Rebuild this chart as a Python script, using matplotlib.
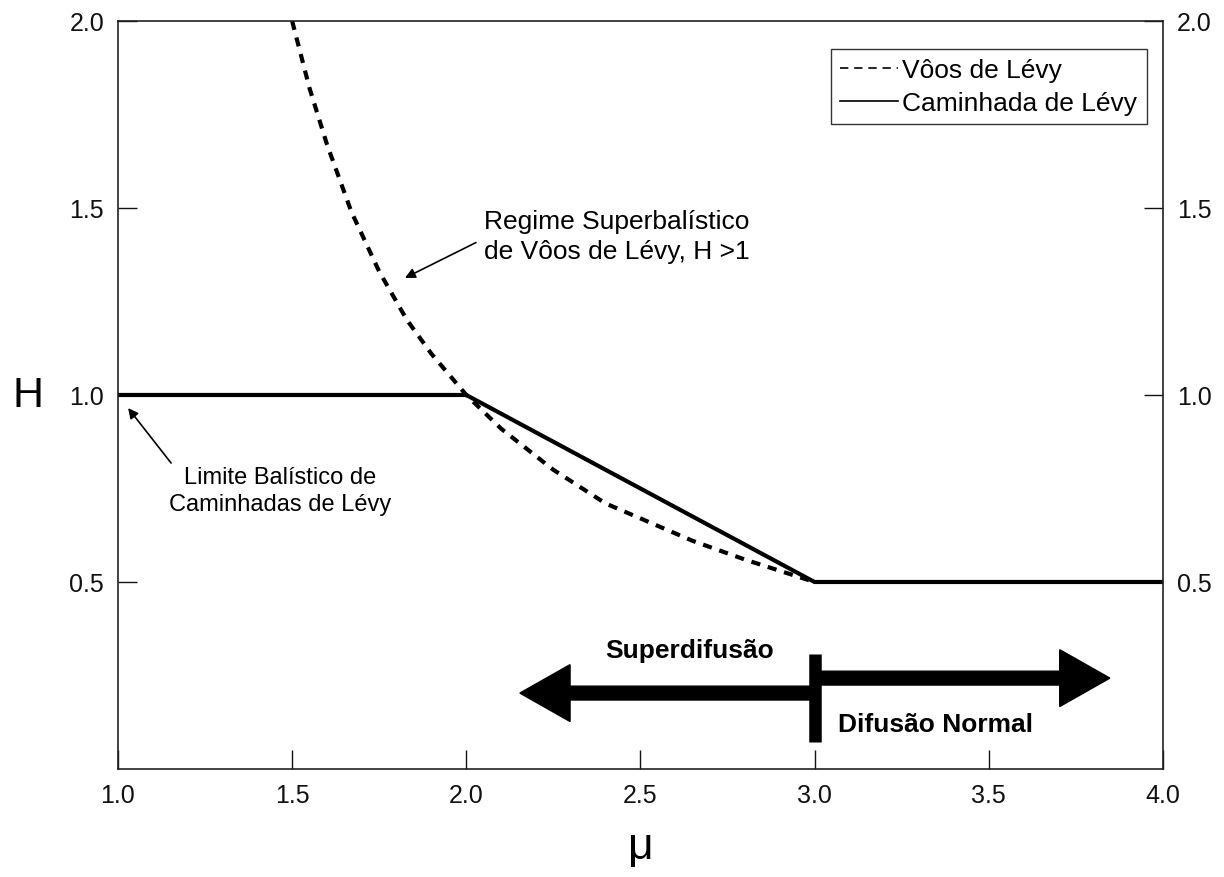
import numpy as np
import matplotlib.pyplot as plt
from matplotlib.patches import FancyArrow
from matplotlib.lines import Line2D

plt.rcParams['font.family'] = ['Liberation Sans', 'DejaVu Sans']

# Vôos de Lévy (tracejada)
mu_voos = [1.50, 1.55, 1.60, 1.67, 1.75, 1.83, 1.90, 2.00, 2.10, 2.25, 2.40, 2.50, 2.65, 2.80, 3.00]
h_voos = [2.00, 1.82, 1.67, 1.49, 1.33, 1.20, 1.11, 1.00, 0.91, 0.80, 0.71, 0.67, 0.61, 0.56, 0.50]

# Caminhada de Lévy (continua)
mu_caminhada = [1.0, 2.0, 3.0, 4.0]
h_caminhada = [1.0, 1.0, 0.5, 0.5]

xticks = [1.0, 1.5, 2.0, 2.5, 3.0, 3.5, 4.0]
yticks = [0.5, 1.0, 1.5, 2.0]

fig = plt.figure(figsize=(12.24, 8.78), dpi=100)
ax = fig.add_axes([0.0964, 0.123, 0.8536, 0.852])

ax.plot(mu_voos, h_voos, color='black', lw=3, dashes=(2.2, 1.9))
ax.plot(mu_caminhada, h_caminhada, color='black', lw=3)

ax.set_xlim(1.0, 4.0)
ax.set_ylim(0.0, 2.0)
ax.set_xticks(xticks)
ax.set_yticks(yticks)
ax.set_xticklabels([f'{t:.1f}' for t in xticks])
ax.set_yticklabels([f'{t:.1f}' for t in yticks])
ax.tick_params(direction='in', length=14, width=1, labelsize=18, pad=10,
               right=True, labelright=True, top=False, colors='#111111')
for s in ax.spines.values():
    s.set_linewidth(1.2)
    s.set_color('#222222')

ax.set_xlabel('μ', fontsize=32, labelpad=14)
ax.set_ylabel('H', fontsize=31, rotation=0, labelpad=30, va='center')

handles = [Line2D([], [], color='black', lw=1.2, dashes=(5, 3.5)),
           Line2D([], [], color='black', lw=1.2)]
leg = ax.legend(handles, ['Vôos de Lévy', 'Caminhada de Lévy'], loc='upper right',
                bbox_to_anchor=(0.9845, 0.963), fontsize=19,
                handlelength=2.2, handletextpad=0.15, borderpad=0.35,
                labelspacing=0.35, borderaxespad=0, handleheight=0.6,
                fancybox=False, framealpha=1)
leg.get_frame().set_edgecolor('#333333')
leg.get_frame().set_linewidth(1.0)

# anotacoes
ax.annotate('Regime Superbalístico\nde Vôos de Lévy, H >1', xy=(1.824, 1.313), xytext=(2.05, 1.425),
            fontsize=19, ha='left', va='center', linespacing=1.3,
            arrowprops=dict(arrowstyle='-|>', color='black', lw=1.2, shrinkA=4, shrinkB=0,
                            mutation_scale=15, relpos=(0.0, 0.45)))
ax.annotate('Limite Balístico de\nCaminhadas de Lévy', xy=(1.029, 0.965), xytext=(1.465, 0.745),
            fontsize=17, ha='center', va='center', linespacing=1.3,
            arrowprops=dict(arrowstyle='-|>', color='black', lw=1.2, shrinkA=0, shrinkB=0,
                            mutation_scale=15,
                            relpos=(0.02, 1.0)))

# setas de regime
ax.plot([3.0, 3.0], [0.072, 0.307], color='black', lw=9, solid_capstyle='butt')
ax.add_patch(FancyArrow(3.0, 0.243, 0.848, 0, width=0.037, head_width=0.152,
                        head_length=0.144, length_includes_head=True, color='black'))
ax.add_patch(FancyArrow(3.0, 0.203, -0.846, 0, width=0.037, head_width=0.152,
                        head_length=0.144, length_includes_head=True, color='black'))
ax.text(2.64, 0.318, 'Superdifusão', fontsize=19, fontweight='bold',
        ha='center', va='center')
ax.text(3.346, 0.119, 'Difusão Normal', fontsize=19, fontweight='bold',
        ha='center', va='center')

fig.savefig('out.png', dpi=100)
